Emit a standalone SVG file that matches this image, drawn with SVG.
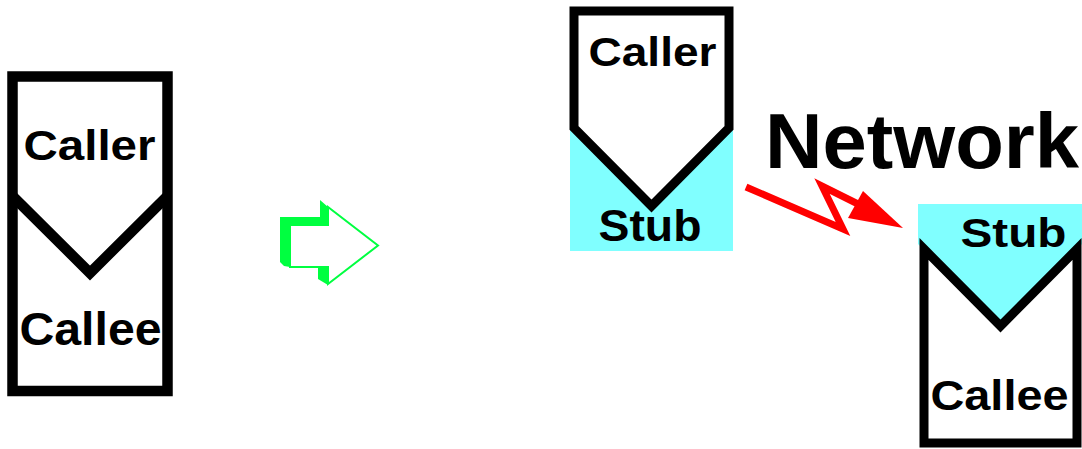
<svg xmlns="http://www.w3.org/2000/svg" width="1082" height="449" viewBox="0 0 1082 449">
  <style>
    .lbl { font-family: "Liberation Sans", Arial, sans-serif; font-weight: bold; fill: #000; text-anchor: middle; }
    .box { fill: #fff; stroke: #000; stroke-linejoin: miter; }
    .stub { fill: #80ffff; }
  </style>

  <!-- local call: caller stacked on callee -->
  <g id="local-call">
    <rect class="box" x="12.5" y="76.5" width="155" height="314.5" stroke-width="10.5"/>
    <polyline points="12.5,196 90,273 167.5,196" fill="none" stroke="#000" stroke-width="10.5"/>
    <text class="lbl" x="89.5" y="160" font-size="43" textLength="132" lengthAdjust="spacingAndGlyphs">Caller</text>
    <text class="lbl" x="90.5" y="345" font-size="46" textLength="142" lengthAdjust="spacingAndGlyphs">Callee</text>
  </g>

  <!-- transformation arrow (hollow, with extruded side) -->
  <g id="transform-arrow">
    <polygon points="280,217 320,217 320,200 328,207 328,225 290,225 290,267 284,266 280,262" fill="#00ff40"/>
    <polygon points="318,264 328,267 328,285 318,279" fill="#00ff40"/>
    <path d="M290,225 H328 V207 L378,245.5 L328,284 V267 H290 Z" fill="#fff" stroke="#00ff40" stroke-width="2"/>
  </g>

  <!-- remote caller with its stub -->
  <g id="remote-caller">
    <rect class="stub" x="570" y="120" width="163" height="131"/>
    <path class="box" d="M574,11 H729 V128 L651.5,206 L574,128 Z" stroke-width="9"/>
    <text class="lbl" x="652.5" y="66" font-size="41" textLength="128" lengthAdjust="spacingAndGlyphs">Caller</text>
    <text class="lbl" x="650" y="241" font-size="45" textLength="103" lengthAdjust="spacingAndGlyphs">Stub</text>
  </g>

  <!-- remote callee with its stub -->
  <g id="remote-callee">
    <polygon class="stub" points="918,204 1082,204 1082,244 1000.5,328 918,244"/>
    <path class="box" d="M924,249 L1000.5,326 L1077,249 V443 H924 Z" stroke-width="9"/>
    <text class="lbl" x="1013.5" y="247" font-size="41" textLength="106" lengthAdjust="spacingAndGlyphs">Stub</text>
    <text class="lbl" x="999.5" y="410" font-size="42" textLength="138" lengthAdjust="spacingAndGlyphs">Callee</text>
  </g>

  <!-- network label -->
  <g id="network">
    <text class="lbl" x="922" y="168" font-size="78" textLength="314" lengthAdjust="spacingAndGlyphs">Network</text>
  </g>

  <!-- connectors: lightning link across the network -->
  <g id="connectors">
    <polyline points="746,187 843,229 822,186 860,205" fill="none" stroke="#ff0000" stroke-width="7" stroke-linejoin="miter" stroke-miterlimit="10"/>
    <polygon points="863,191 903,228 848,218" fill="#ff0000"/>
  </g>
</svg>
